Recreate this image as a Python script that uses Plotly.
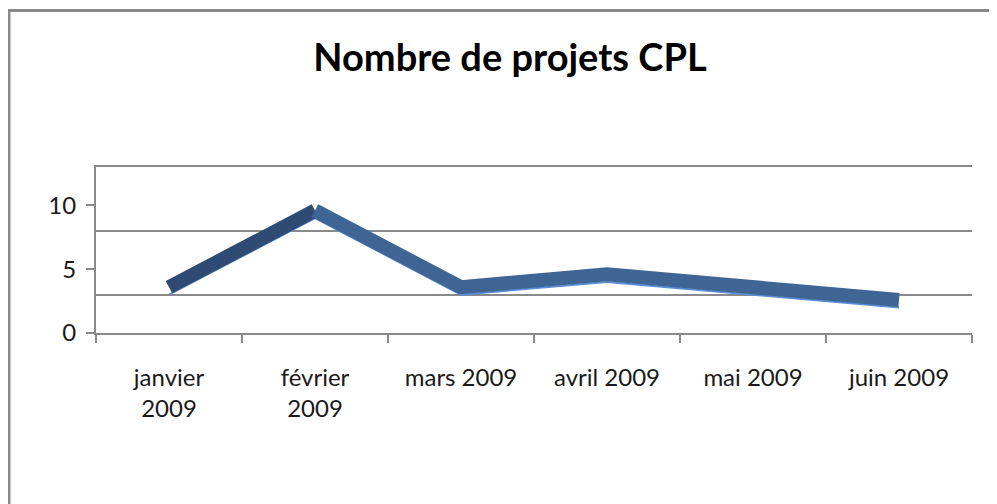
"""
Nombre de projets CPL -- recreation of an Excel 3D line chart with Plotly.

The 3D look is faked in 2D: the back-wall gridlines sit on a second,
offset y-axis, and the ribbon is a thick line on a third, slightly
shifted axis so that its lower edge lands on the data value.
"""

import plotly.graph_objects as go

MONTHS = ["janvier<br>2009", "février<br>2009", "mars 2009", "avril 2009", "mai 2009", "juin 2009"]
PROJECTS = [3, 9, 3, 4, 3, 2]
Y_TICKS = [0, 5, 10]

TITLE = "Nombre de projets CPL"

FONT = "Lato, 'Open Sans', sans-serif"
GREY = "#8a8a8a"
RIBBON = "#3e6594"
RIBBON_DARK = "#2f4b74"
RIBBON_EDGE = "#5b8ed6"

# the page body has an 8px margin, so the figure is a bit smaller
# than the window and everything is placed 8px up/left
W, H = 989, 496
L, R, T, B = 88, 25, 159, 171

fig = go.Figure()

# rising segment is shaded darker in the original
fig.add_trace(go.Scatter(
    x=MONTHS[:2], y=PROJECTS[:2], yaxis="y3", mode="lines",
    line=dict(color=RIBBON_DARK, width=14), hoverinfo="skip", showlegend=False,
))
fig.add_trace(go.Scatter(
    x=MONTHS[1:], y=PROJECTS[1:], yaxis="y3", mode="lines",
    line=dict(color=RIBBON, width=14), hoverinfo="skip", showlegend=False,
))
# thin highlight along the front edge of the ribbon
fig.add_trace(go.Scatter(
    x=MONTHS, y=PROJECTS, mode="lines",
    line=dict(color=RIBBON_EDGE, width=2), name="Projets", showlegend=False,
))
# invisible trace so the back-wall axis gets drawn
fig.add_trace(go.Scatter(
    x=MONTHS, y=PROJECTS, yaxis="y2", mode="lines",
    line=dict(width=0), opacity=0, hoverinfo="skip", showlegend=False,
))

# outer chart frame (only top and left edges are visible in the source)
px = lambda v: (v - L) / (W - L - R)
py = lambda v: (H - B - v) / (H - T - B)
fig.add_shape(
    type="rect", xref="paper", yref="paper",
    x0=px(1), x1=px(1010), y0=py(2.5), y1=py(520),
    line=dict(color=GREY, width=3), layer="below",
)

fig.update_layout(
    width=W, height=H,
    margin=dict(l=L, r=R, t=T, b=B),
    paper_bgcolor="white", plot_bgcolor="white",
    font=dict(family=FONT, size=24, color="#1a1a1a"),
    title=dict(
        text=f"<b>{TITLE}</b>", x=502 / W, xref="container", xanchor="center",
        y=1 - 50 / H, yref="container", yanchor="middle",
        font=dict(family=FONT, size=38, color="black"),
    ),
    xaxis=dict(
        type="category", range=[-0.5, 5.5], tickson="boundaries",
        ticks="outside", ticklen=8, tickwidth=2, tickcolor=GREY,
        showline=True, mirror=True, linecolor=GREY, linewidth=2, showgrid=False,
        ticklabelstandoff=22, fixedrange=True,
    ),
    yaxis=dict(
        range=[0, 13], tickvals=Y_TICKS, ticks="outside", ticklen=8,
        tickwidth=2, tickcolor=GREY, showline=True, linecolor=GREY,
        linewidth=2, showgrid=False, zeroline=False, ticklabelstandoff=5,
        fixedrange=True,
    ),
    # back wall: same scale, pushed up by the depth of the floor
    yaxis2=dict(
        overlaying="y", range=[-3, 10], tickvals=Y_TICKS, showticklabels=False,
        ticks="", showgrid=True, gridcolor=GREY, gridwidth=2, zeroline=False,
        showline=False, layer="below traces", fixedrange=True,
    ),
    yaxis3=dict(
        overlaying="y", range=[-0.59, 12.41], visible=False, fixedrange=True,
    ),
)

fig.write_html("out.html")
